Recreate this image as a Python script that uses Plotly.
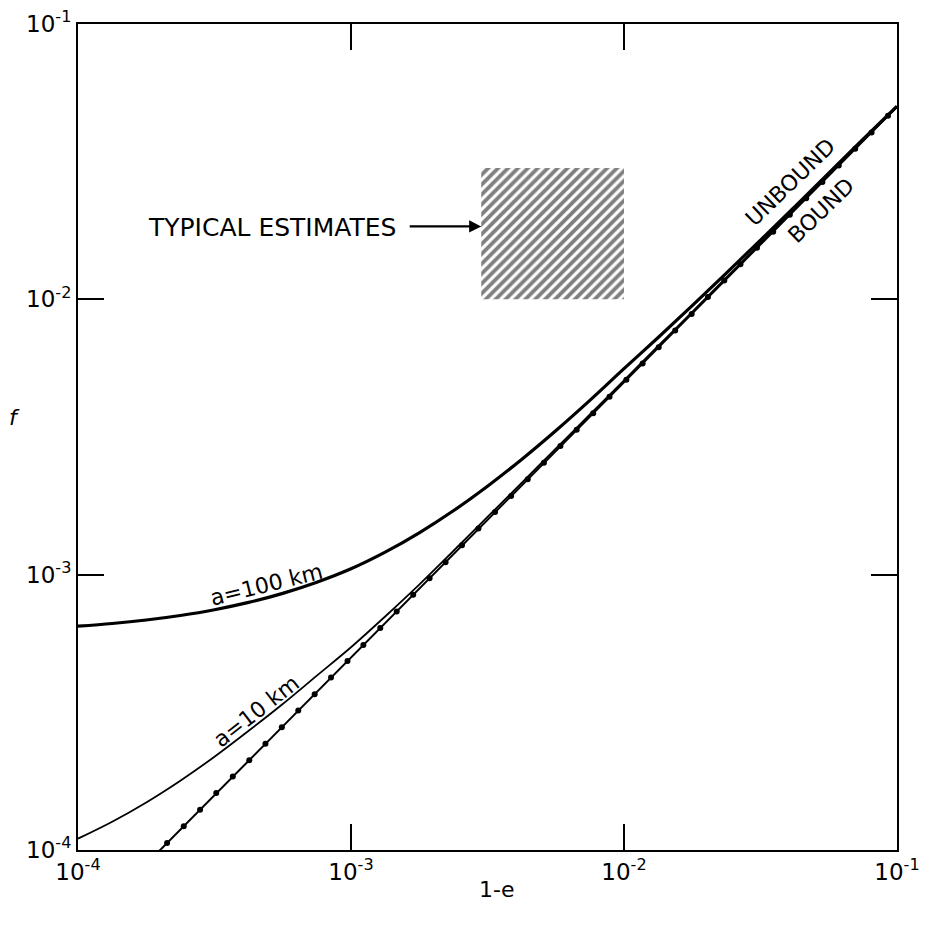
import plotly.graph_objects as go
import numpy as np

# ---- data ----
curve_x = [1.000e-4, 1.334e-4, 1.778e-4, 2.371e-4, 3.162e-4, 4.217e-4, 5.623e-4, 7.499e-4,
           1.000e-3, 1.334e-3, 1.778e-3, 2.371e-3, 3.162e-3, 4.217e-3, 5.623e-3, 7.499e-3,
           1.000e-2, 1.334e-2, 1.778e-2, 2.371e-2, 3.162e-2, 4.217e-2, 5.623e-2, 7.499e-2,
           1.000e-1]
a100_f = [6.500e-4, 6.648e-4, 6.845e-4, 7.109e-4, 7.460e-4, 7.928e-4, 8.553e-4, 9.386e-4,
          1.050e-3, 1.207e-3, 1.419e-3, 1.706e-3, 2.095e-3, 2.622e-3, 3.334e-3, 4.298e-3,
          5.600e-3, 7.270e-3, 9.490e-3, 1.2455e-2, 1.641e-2, 2.1685e-2, 2.8715e-2, 3.8095e-2,
          5.030e-2]
a10_f = [1.100e-4, 1.267e-4, 1.489e-4, 1.786e-4, 2.181e-4, 2.709e-4, 3.390e-4, 4.300e-4,
         5.450e-4, 7.050e-4, 9.200e-4, 1.219e-3, 1.621e-3, 2.155e-3, 2.868e-3, 3.817e-3,
         5.080e-3, 6.770e-3, 9.010e-3, 1.201e-2, 1.600e-2, 2.130e-2, 2.834e-2, 3.769e-2,
         5.000e-2]

bound_x = [1.9e-4, 1.0e-1]
bound_f = [0.95e-4, 5.0e-2]

dots_x = [2.12e-4, 2.44e-4, 2.80e-4, 3.21e-4, 3.69e-4, 4.24e-4, 4.86e-4, 5.58e-4, 6.41e-4, 7.36e-4,
          8.45e-4, 9.71e-4, 1.11e-3, 1.28e-3, 1.47e-3, 1.69e-3, 1.94e-3, 2.22e-3, 2.55e-3, 2.93e-3,
          3.37e-3, 3.86e-3, 4.44e-3, 5.09e-3, 5.85e-3, 6.71e-3, 7.71e-3, 8.85e-3, 1.02e-2, 1.17e-2,
          1.34e-2, 1.54e-2, 1.77e-2, 2.03e-2, 2.33e-2, 2.67e-2, 3.07e-2, 3.52e-2, 4.05e-2, 4.65e-2,
          5.33e-2, 6.12e-2, 7.03e-2, 8.07e-2, 9.27e-2]
dots_f = [1.06e-4, 1.22e-4, 1.40e-4, 1.61e-4, 1.85e-4, 2.12e-4, 2.43e-4, 2.79e-4, 3.21e-4, 3.68e-4,
          4.23e-4, 4.86e-4, 5.55e-4, 6.40e-4, 7.35e-4, 8.45e-4, 9.70e-4, 1.11e-3, 1.28e-3, 1.47e-3,
          1.69e-3, 1.93e-3, 2.22e-3, 2.55e-3, 2.93e-3, 3.36e-3, 3.86e-3, 4.43e-3, 5.10e-3, 5.85e-3,
          6.70e-3, 7.70e-3, 8.85e-3, 1.02e-2, 1.17e-2, 1.34e-2, 1.54e-2, 1.76e-2, 2.03e-2, 2.33e-2,
          2.67e-2, 3.06e-2, 3.52e-2, 4.04e-2, 4.64e-2]

box_x = [3.0e-3, 1.0e-2, 1.0e-2, 3.0e-3, 3.0e-3]
box_f = [1.0e-2, 1.0e-2, 3.0e-2, 3.0e-2, 1.0e-2]

tick_vals = [1e-4, 1e-3, 1e-2, 1e-1]
tick_text = ["10<sup>-4</sup>", "10<sup>-3</sup>", "10<sup>-2</sup>", "10<sup>-1</sup>"]

FONT = "DejaVu Sans"
FS = 22

fig = go.Figure()

fig.add_trace(go.Scatter(x=box_x, y=box_f, mode="lines", fill="toself",
                         line=dict(width=0, color="black"),
                         fillcolor="white",
                         fillpattern=dict(shape="/", fgcolor="black", bgcolor="white",
                                          size=7, solidity=0.55),
                         hoverinfo="skip"))

fig.add_trace(go.Scatter(x=bound_x, y=bound_f, mode="lines",
                         line=dict(color="black", width=2)))
fig.add_trace(go.Scatter(x=dots_x, y=dots_f, mode="markers",
                         marker=dict(color="black", size=6)))
fig.add_trace(go.Scatter(x=curve_x, y=a10_f, mode="lines", line_shape="spline",
                         line=dict(color="black", width=1.8)))
fig.add_trace(go.Scatter(x=curve_x, y=a100_f, mode="lines", line_shape="spline",
                         line=dict(color="black", width=3.2)))

# page geometry (the html body adds an 8px offset)
OFF = 8
PL, PR, PT, PB = 78, 897, 24, 850   # plot area in window pixels
W, H = 916, 910
L, R, T = PL - OFF, (OFF + W) - PR, PT - OFF
B = (OFF + H) - PB

def px(xp, yp):
    return (xp - PL) / (PR - PL), (PB - yp) / (PB - PT)

lx = np.log10
txt = dict(family=FONT, size=FS, color="black")
annotations = [
    dict(x=lx(3.0e-3), y=lx(0.0184), ax=lx(1.62e-3), ay=lx(0.0184), axref="x", ayref="y",
         xref="x", yref="y", text="", showarrow=True, arrowhead=2, arrowsize=1.1,
         arrowwidth=2.2, arrowcolor="black"),
    dict(x=lx(1.49e-3), y=lx(0.0182), xref="x", yref="y", text="TYPICAL ESTIMATES",
         xanchor="right", yanchor="middle", showarrow=False,
         font=dict(family=FONT, size=25, color="black")),
    dict(x=lx(4.92e-4), y=lx(9.2e-4), xref="x", yref="y", text="a=100 km", textangle=-14,
         xanchor="center", yanchor="middle", showarrow=False, font=txt),
    dict(x=lx(4.49e-4), y=lx(3.18e-4), xref="x", yref="y", text="a=10 km", textangle=-38,
         xanchor="center", yanchor="middle", showarrow=False, font=txt),
]
for text, (xp, yp), ang in [("UNBOUND", (790, 182), -44), ("BOUND", (821, 210), -44),
                            ("<i>f</i>", (14, 417), 0), ("1-e", (497, 889), 0)]:
    xx, yy = px(xp, yp)
    annotations.append(dict(x=xx, y=yy, xref="paper", yref="paper", text=text,
                            textangle=ang, xanchor="center", yanchor="middle",
                            showarrow=False, font=txt))

axis_common = dict(type="log", range=[-4, -1], tickvals=tick_vals, ticktext=tick_text,
                   ticks="inside", ticklen=26, tickwidth=1.5, tickcolor="black",
                   showline=True, linecolor="black", linewidth=2, mirror="ticks",
                   showgrid=False, zeroline=False, ticklabeloverflow="allow",
                   tickfont=dict(family=FONT, size=23, color="black"))

fig.update_layout(
    width=W, height=H,
    margin=dict(l=L, r=R, t=T, b=B, autoexpand=False),
    paper_bgcolor="white", plot_bgcolor="white",
    showlegend=False,
    xaxis=dict(**axis_common),
    yaxis=dict(**axis_common),
    annotations=annotations,
)

fig.write_html("out.html")
